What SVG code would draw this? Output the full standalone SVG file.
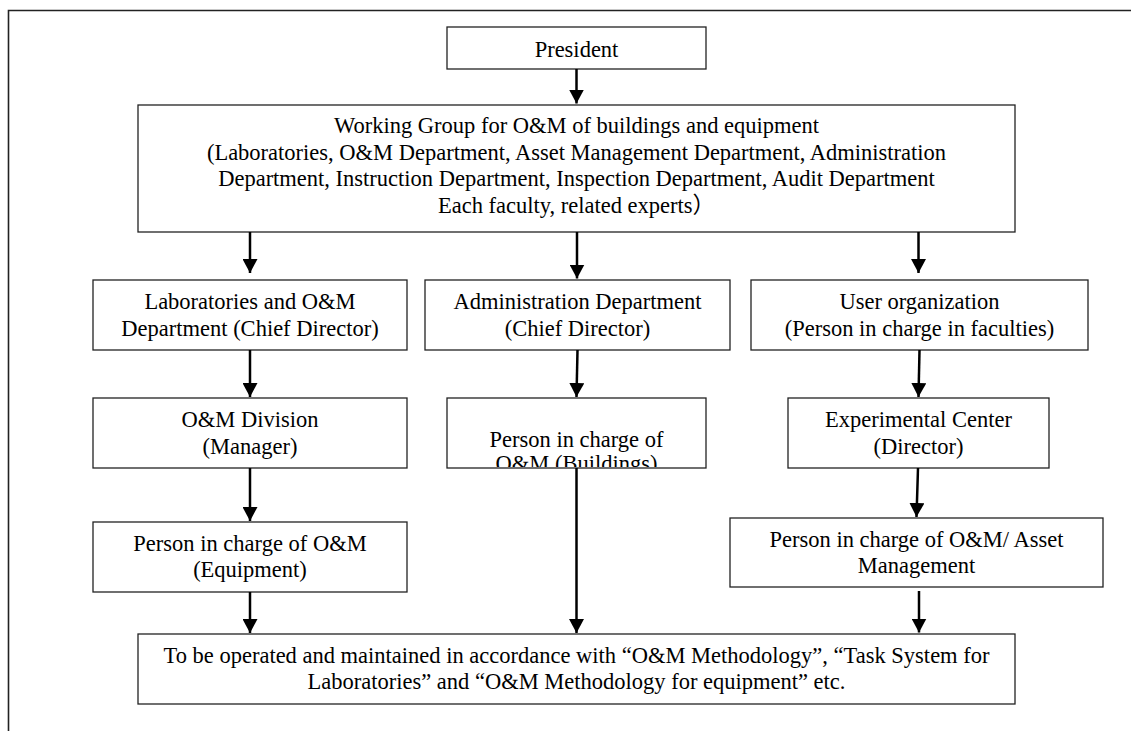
<svg xmlns="http://www.w3.org/2000/svg" width="1131" height="731" viewBox="0 0 1131 731">
<style>
.box{fill:#fff;stroke:#222;stroke-width:1.3}
.t{font-family:"Liberation Serif","Noto Sans CJK SC",serif;font-size:22.5px;fill:#000;text-anchor:middle}
.c{stroke:#000;stroke-width:2.5;fill:none}
.frame{stroke:#222;stroke-width:1.6;fill:none}
</style>
<defs>
<marker id="ah" markerUnits="userSpaceOnUse" markerWidth="15" markerHeight="15" refX="14" refY="7.5" orient="auto" viewBox="0 0 15 15">
<path d="M0,0 L14,7.5 L0,15 z" fill="#000"/>
</marker>
<clipPath id="clipB"><rect x="447" y="398" width="259" height="69"/></clipPath>
</defs>
<rect width="1131" height="731" fill="#fff"/>
<path class="frame" d="M8.5,731 L8.5,10.5 L1131,10.5"/>

<g id="president">
<rect class="box" x="447" y="27" width="259" height="42"/>
<text class="t" x="576.5" y="57">President</text>
</g>

<g id="working-group">
<rect class="box" x="138" y="105" width="877" height="127"/>
<text class="t" x="576.5" y="133">Working Group for O&amp;M of buildings and equipment</text>
<text class="t" x="576.5" y="159.5">(Laboratories, O&amp;M Department, Asset Management Department, Administration</text>
<text class="t" x="576.5" y="186">Department, Instruction Department, Inspection Department, Audit Department</text>
<text class="t" x="576.5" y="212.5">Each faculty, related experts）</text>
</g>

<g id="lab-dept">
<rect class="box" x="93" y="280" width="314" height="70"/>
<text class="t" x="250" y="309">Laboratories and O&amp;M</text>
<text class="t" x="250" y="336">Department (Chief Director)</text>
</g>

<g id="admin-dept">
<rect class="box" x="425" y="280" width="305" height="70"/>
<text class="t" x="577.5" y="309">Administration Department</text>
<text class="t" x="577.5" y="336">(Chief Director)</text>
</g>

<g id="user-org">
<rect class="box" x="751" y="280" width="337" height="70"/>
<text class="t" x="919.5" y="309">User organization</text>
<text class="t" x="919.5" y="336">(Person in charge in faculties)</text>
</g>

<g id="om-division">
<rect class="box" x="93" y="398" width="314" height="70"/>
<text class="t" x="250" y="427">O&amp;M Division</text>
<text class="t" x="250" y="454">(Manager)</text>
</g>

<g id="person-buildings">
<rect class="box" x="447" y="398" width="259" height="70"/>
<g clip-path="url(#clipB)">
<text class="t" x="576.5" y="447">Person in charge of</text>
<text class="t" x="576.5" y="471">O&amp;M (Buildings)</text>
</g>
</g>

<g id="experimental-center">
<rect class="box" x="788" y="398" width="261" height="70"/>
<text class="t" x="918.5" y="427">Experimental Center</text>
<text class="t" x="918.5" y="454">(Director)</text>
</g>

<g id="person-equipment">
<rect class="box" x="93" y="522" width="314" height="70"/>
<text class="t" x="250" y="551">Person in charge of O&amp;M</text>
<text class="t" x="250" y="577">(Equipment)</text>
</g>

<g id="person-asset">
<rect class="box" x="730" y="518" width="373" height="69"/>
<text class="t" x="916.5" y="547">Person in charge of O&amp;M/ Asset</text>
<text class="t" x="916.5" y="573">Management</text>
</g>

<g id="methodology">
<rect class="box" x="138" y="634" width="877" height="70"/>
<text class="t" x="576.5" y="663">To be operated and maintained in accordance with “O&amp;M Methodology”, “Task System for</text>
<text class="t" x="576.5" y="689">Laboratories” and “O&amp;M Methodology for equipment” etc.</text>
</g>

<g id="connectors">
<line class="c" x1="576.5" y1="69" x2="576.5" y2="103.5" marker-end="url(#ah)"/>
<line class="c" x1="250" y1="232" x2="250" y2="273" marker-end="url(#ah)"/>
<line class="c" x1="577" y1="232" x2="577" y2="278.5" marker-end="url(#ah)"/>
<line class="c" x1="918.5" y1="232" x2="918.5" y2="273" marker-end="url(#ah)"/>
<line class="c" x1="250" y1="350" x2="250" y2="397" marker-end="url(#ah)"/>
<line class="c" x1="577.5" y1="350" x2="576.5" y2="397" marker-end="url(#ah)"/>
<line class="c" x1="919.5" y1="350" x2="918.5" y2="397" marker-end="url(#ah)"/>
<line class="c" x1="250" y1="468" x2="250" y2="521" marker-end="url(#ah)"/>
<line class="c" x1="918" y1="468" x2="916.5" y2="517" marker-end="url(#ah)"/>
<line class="c" x1="576.5" y1="468" x2="576.5" y2="633" marker-end="url(#ah)"/>
<line class="c" x1="250" y1="592" x2="250" y2="633" marker-end="url(#ah)"/>
<line class="c" x1="919" y1="591" x2="919" y2="632.5" marker-end="url(#ah)"/>
</g>
</svg>
